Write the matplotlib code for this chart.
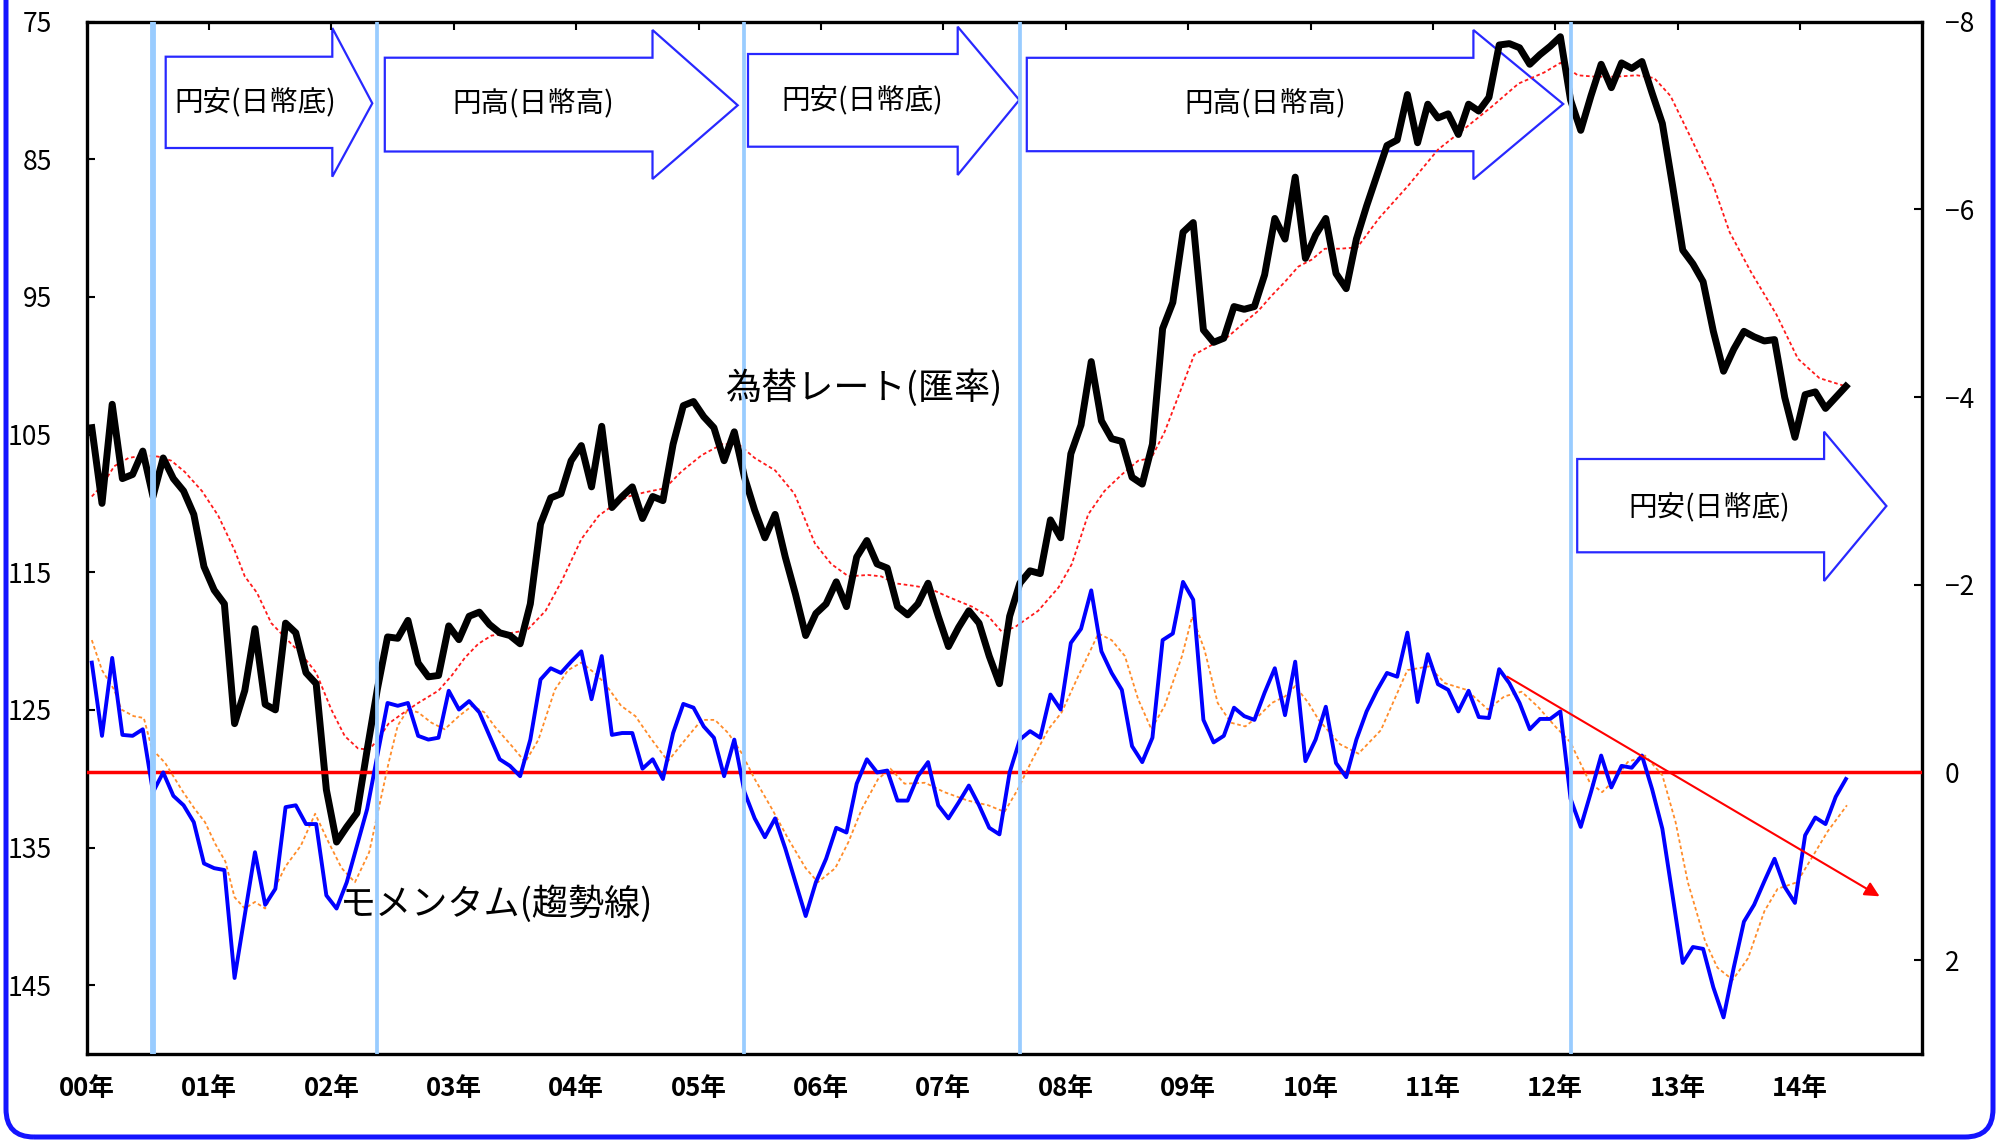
import numpy as np
import matplotlib
matplotlib.use('Agg')
import matplotlib.pyplot as plt
from matplotlib.patches import Polygon, FancyBboxPatch
from matplotlib.transforms import IdentityTransform

plt.rcParams['font.family'] = ['Noto Sans CJK JP', 'DejaVu Sans']
plt.rcParams['axes.unicode_minus'] = True

# ---------------- data ----------------
year_labels = ['00年', '01年', '02年', '03年', '04年', '05年', '06年', '07年',
               '08年', '09年', '10年', '11年', '12年', '13年', '14年']

# month-end exchange rate, Jan 2000 .. May 2014 (left axis, inverted)
rate = [104.5, 110.0, 102.8, 108.2, 107.9, 106.2, 109.5, 106.7, 108.2, 109.1, 110.8, 114.6,
        116.3, 117.3, 126.0, 123.6, 119.1, 124.6, 125.0, 118.7, 119.4, 122.3, 123.1, 130.8,
        134.6, 133.5, 132.5, 127.9, 123.5, 119.7, 119.8, 118.5, 121.6, 122.6, 122.5, 118.9,
        119.9, 118.2, 117.9, 118.8, 119.4, 119.6, 120.2, 117.3, 111.5, 109.6, 109.3, 106.9,
        105.8, 108.8, 104.4, 110.3, 109.5, 108.8, 111.1, 109.5, 109.8, 105.7, 102.9, 102.6,
        103.7, 104.5, 106.9, 104.8, 108.1, 110.5, 112.5, 110.8, 113.9, 116.6, 119.6, 118.0,
        117.3, 115.7, 117.5, 113.9, 112.7, 114.4, 114.7, 117.5, 118.1, 117.3, 115.8, 118.2,
        120.4, 119.0, 117.8, 118.7, 121.1, 123.1, 118.2, 115.8, 114.9, 115.1, 111.2, 112.5,
        106.4, 104.3, 99.7, 104.0, 105.3, 105.5, 108.1, 108.6, 105.7, 97.3, 95.4, 90.3,
        89.6, 97.4, 98.3, 98.0, 95.7, 95.9, 95.7, 93.4, 89.3, 90.8, 86.3, 92.2,
        90.5, 89.3, 93.3, 94.4, 90.8, 88.4, 86.2, 84.0, 83.6, 80.3, 83.8, 81.0,
        82.0, 81.7, 83.2, 81.0, 81.5, 80.5, 76.7, 76.6, 76.9, 78.1, 77.4, 76.8,
        76.1, 80.7, 82.9, 80.4, 78.1, 79.8, 78.0, 78.4, 77.9, 80.2, 82.4, 86.9,
        91.6, 92.6, 93.9, 97.5, 100.4, 98.8, 97.5, 97.9, 98.2, 98.1, 102.3, 105.2,
        102.1, 101.9, 103.1, 102.3, 101.5]

# momentum (right axis, inverted)
momentum = [-1.17, -0.39, -1.22, -0.40, -0.39, -0.46, 0.21, 0.00, 0.25, 0.35, 0.53, 0.97,
            1.02, 1.04, 2.19, 1.52, 0.85, 1.41, 1.24, 0.37, 0.35, 0.55, 0.55, 1.31,
            1.45, 1.17, 0.78, 0.39, -0.18, -0.74, -0.71, -0.74, -0.39, -0.35, -0.37, -0.87,
            -0.67, -0.76, -0.64, -0.39, -0.14, -0.07, 0.04, -0.35, -0.99, -1.11, -1.06, -1.18,
            -1.29, -0.78, -1.24, -0.40, -0.42, -0.42, -0.04, -0.14, 0.07, -0.42, -0.73, -0.69,
            -0.49, -0.37, 0.04, -0.35, 0.21, 0.49, 0.69, 0.49, 0.81, 1.17, 1.53, 1.17,
            0.92, 0.59, 0.64, 0.12, -0.14, 0.00, -0.02, 0.30, 0.30, 0.04, -0.11, 0.35,
            0.49, 0.32, 0.14, 0.35, 0.59, 0.66, 0.00, -0.35, -0.44, -0.37, -0.83, -0.67,
            -1.38, -1.53, -1.94, -1.29, -1.06, -0.88, -0.28, -0.11, -0.37, -1.41, -1.48, -2.03,
            -1.84, -0.56, -0.32, -0.39, -0.69, -0.60, -0.56, -0.85, -1.11, -0.61, -1.18, -0.12,
            -0.35, -0.70, -0.10, 0.05, -0.35, -0.65, -0.87, -1.06, -1.02, -1.49, -0.75, -1.26,
            -0.94, -0.88, -0.65, -0.87, -0.59, -0.58, -1.10, -0.95, -0.74, -0.46, -0.57, -0.57,
            -0.65, 0.28, 0.58, 0.21, -0.18, 0.16, -0.07, -0.05, -0.18, 0.18, 0.60, 1.31,
            2.03, 1.86, 1.88, 2.29, 2.61, 2.08, 1.59, 1.41, 1.16, 0.92, 1.22, 1.39,
            0.67, 0.48, 0.55, 0.26, 0.07]

# moving average of the rate (red dotted), read at these month indices
rate_ma_month = [0, 1, 2.2, 3.6, 5.2, 6.5, 7.8, 9.1, 10.8, 12.4, 14, 15, 16.2, 17.6, 18.9,
                 20.6, 22.0, 23.5, 24.8, 26.1, 27.2, 28.2, 29.1, 30.4, 32, 34, 35.3, 36.6,
                 37.9, 39.2, 40.5, 42.7, 44.5, 46.1, 48.0, 49.7, 51, 52.6, 54.2, 56.2, 57.8,
                 59.8, 61.8, 63.4, 65, 67, 68.9, 70.9, 72.5, 74.2, 76.1, 77.4, 78.7, 80.7,
                 82.2, 84, 86.3, 87.9, 89.2, 90.5, 92.8, 94.8, 96.1, 97.7, 99.3, 101, 102.6,
                 103.9, 105.2, 106.5, 108.1, 109.8, 111.4, 113.1, 114.4, 115.7, 117, 118.3,
                 119.6, 120.9, 122.4, 124.1, 126.2, 129.1, 132, 134.9, 137.4, 139.9, 142.4,
                 144, 145.7, 147.4, 149.5, 151.5, 153.2, 154.8, 156.9, 159, 160.6, 162.7,
                 165.2, 167.3, 169.4, 172]
rate_ma = [109.5, 108.7, 107.3, 106.7, 106.5, 106.6, 106.9, 107.7, 109.1, 110.9, 113.4, 115.3,
           116.5, 118.7, 119.7, 121.0, 122.3, 125.0, 126.9, 127.8, 127.9, 127.0, 126.0, 125.3,
           124.5, 123.6, 122.5, 121.2, 120.2, 119.6, 119.5, 119.2, 117.8, 115.6, 112.6, 110.9,
           110.2, 109.5, 109.2, 108.9, 107.7, 106.5, 105.7, 105.7, 106.7, 107.6, 109.3, 112.9,
           114.4, 115.3, 115.2, 115.3, 115.8, 116.0, 116.2, 116.8, 117.5, 118.2, 119.3, 119.0,
           117.8, 116.1, 114.4, 110.8, 109.1, 107.9, 106.9, 106.7, 104.8, 102.3, 99.2, 98.5,
           97.9, 96.8, 96.0, 94.9, 93.9, 92.8, 92.3, 91.5, 91.5, 91.4, 89.3, 86.9, 84.3,
           82.6, 81.1, 79.5, 78.7, 78.0, 78.9, 79.0, 79.0, 78.9, 79.1, 80.4, 83.6, 86.9,
           90.3, 93.2, 96.3, 99.5, 100.9, 101.5]

# moving average of the momentum (orange dotted)
mom_ma_month = [0, 1, 2.2, 2.9, 4.1, 5.1, 5.9, 7.2, 8.9, 10.1, 11.1, 12.1, 13.1, 14.0, 15.0,
                16, 17, 18, 19, 20.5, 21.9, 23.2, 24.5, 25.8, 27.2, 28.2, 29.1, 30, 31, 32,
                33.3, 34.6, 36, 37.3, 38.5, 39.5, 41.2, 42.5, 43.8, 45.4, 46.7, 48, 49.3,
                50.3, 51.9, 53.3, 54.9, 56.5, 58.2, 59.8, 61.1, 62.4, 63.7, 65, 66.7, 68.3,
                70, 71.2, 72.9, 74.2, 75.5, 77.1, 78.3, 79.7, 81.7, 83.6, 85.9, 87.9, 89.5,
                90.8, 92.1, 93.8, 95.1, 96.7, 98.7, 100, 101.3, 102.6, 103.9, 105.2, 106.9,
                107.9, 109.1, 110.4, 111.7, 113.1, 114.4, 115.7, 117, 118, 119.3, 120.3,
                122.4, 124.2, 126.4, 129, 131.1, 132.7, 134.8, 136.9, 138.5, 140.2, 141.8,
                143.5, 145, 145.6, 146.9, 148.1, 149.4, 150.6, 152.3, 154, 155.3, 156.5,
                158.2, 159.4, 160.9, 162.4, 164, 165.3, 167.2, 168.6, 170.2, 172.1]
mom_ma = [-1.41, -1.09, -0.88, -0.67, -0.60, -0.58, -0.25, -0.10, 0.20, 0.39, 0.53, 0.76,
          0.95, 1.33, 1.45, 1.38, 1.45, 1.22, 1.00, 0.78, 0.44, 0.74, 1.02, 1.17, 0.85,
          0.35, -0.10, -0.50, -0.67, -0.64, -0.53, -0.46, -0.60, -0.71, -0.64, -0.49, -0.28,
          -0.11, -0.35, -0.88, -1.09, -1.17, -1.06, -0.95, -0.71, -0.60, -0.35, -0.12, -0.35,
          -0.56, -0.56, -0.42, -0.21, 0.07, 0.39, 0.71, 1.02, 1.17, 1.02, 0.74, 0.39, 0.07,
          -0.04, 0.12, 0.11, 0.21, 0.30, 0.35, 0.42, 0.18, -0.11, -0.46, -0.64, -1.02, -1.48,
          -1.41, -1.24, -0.78, -0.46, -0.71, -1.24, -1.66, -1.31, -0.74, -0.53, -0.49, -0.60,
          -0.74, -0.81, -0.92, -0.74, -0.56, -0.30, -0.20, -0.45, -1.09, -1.13, -0.95, -0.88,
          -0.67, -0.81, -0.86, -0.70, -0.49, -0.32, -0.18, 0.11, 0.21, 0.07, -0.11, -0.18,
          0.03, 0.53, 1.17, 1.80, 2.08, 2.21, 1.98, 1.48, 1.24, 1.17, 0.92, 0.63, 0.35]

turning_points = [6.5, 28.5, 64.5, 91.5, 145.5]     # light-blue vertical lines (month axis)
trend_labels = ['円安(日幣底)', '円高(日幣高)', '円安(日幣底)', '円高(日幣高)', '円安(日幣底)']

# ---------------- figure ----------------
W, H = 2004, 1146
fig = plt.figure(figsize=(W / 100, H / 100), dpi=100)


def fx(x):
    return x / W


def fy(y):
    return 1 - y / H


L, R, T, B = 86.7, 1922.4, 21.6, 1054
ax = fig.add_axes([fx(L), fy(B), fx(R) - fx(L), fy(T) - fy(B)])
ax2 = ax.twinx()

months = np.arange(len(rate)) + 0.5

# block arrows (behind the lines)
arrow_geo = [
    (165.7, 56.7, 148.0, 332.3, 28.0, 176.7, 372.3, 103.3),
    (384.8, 57.7, 151.5, 652.5, 30.0, 179.0, 737.7, 105.3),
    (748.0, 54.0, 146.7, 957.7, 26.7, 175.0, 1019.3, 100.0),
    (1026.8, 57.8, 151.2, 1473.4, 30.0, 179.3, 1563.2, 104.0),
    (1577.2, 459.0, 552.3, 1824.1, 431.7, 581.0, 1886.4, 506.0),
]
text_pos = [(255.5, 102), (533.5, 104), (862, 100), (1265, 104.5), (1709.5, 507)]
for (xl, yt, yb, xh, yht, yhb, xt, ytip) in arrow_geo:
    pts = [(xl, yt), (xh, yt), (xh, yht), (xt, ytip), (xh, yhb), (xh, yb), (xl, yb)]
    poly = Polygon([(fx(a), fy(b)) for a, b in pts], closed=True,
                   transform=fig.transFigure, facecolor='white',
                   edgecolor='#2828ff', lw=1.6, zorder=1)
    ax.add_patch(poly)

ax.plot(np.array(rate_ma_month) + 0.5, rate_ma, color='#ff1a1a', lw=1.3,
        ls=(0, (2, 1.5)), zorder=2)
ax.plot(months, rate, color='black', lw=5.0, solid_joinstyle='round', zorder=3)

ax2.axhline(0, color='#ff0000', lw=2.5, zorder=2)
ax2.plot(np.array(mom_ma_month) + 0.5, mom_ma, color='#ff8c2a', lw=1.3,
         ls=(0, (2, 1.5)), zorder=3)
ax2.plot(months, momentum, color='#0000ff', lw=2.8, zorder=4)

for i, xv in enumerate(turning_points):
    ax2.axvline(xv, color='#99ccff', lw=4.2 if i == 0 else 2.7, zorder=5)

ax2.annotate('', xy=(175.8, 1.32), xytext=(139.3, -1.02),
             arrowprops=dict(arrowstyle='-|>', color='#ff0000', lw=1.5,
                             mutation_scale=22, shrinkA=0, shrinkB=0), zorder=6)

# axes setup
ax.set_xlim(0, 180)
ax.set_ylim(150, 75)
ax2.set_ylim(3, -8)

ax.set_yticks(list(range(75, 150, 10)))
ax.tick_params(axis='y', direction='in', length=6, width=1.5, labelsize=19, pad=25)
ax.set_xticks(list(range(0, 180, 12)))
ax.set_xticklabels(year_labels, fontsize=18.5, fontweight='bold')
ax.tick_params(axis='x', direction='in', top=True, bottom=False, labeltop=False,
               labelbottom=True, length=6, width=1.5, pad=15)
ax2.set_yticks([-8, -6, -4, -2, 0, 2])
ax2.tick_params(axis='y', direction='in', length=6, width=1.5, labelsize=19, pad=16)

for s in ax.spines.values():
    s.set_linewidth(2.4)
    s.set_color('black')
for s in ax2.spines.values():
    s.set_visible(False)

# texts
for (cx, cy), s in zip(text_pos, trend_labels):
    fig.text(fx(cx), fy(cy), s, ha='center', va='center', fontsize=20.5, zorder=10)
fig.text(fx(865), fy(388), '為替レート(匯率)', ha='center', va='center', fontsize=26, zorder=10)
fig.text(fx(496.5), fy(904), 'モメンタム(趨勢線)', ha='center', va='center', fontsize=26, zorder=10)

# outer rounded blue frame (top edge cut off)
frame = FancyBboxPatch((6, 9), 1987, 1400, boxstyle='round,pad=0,rounding_size=28',
                       transform=IdentityTransform(), fill=False,
                       edgecolor='#1414ff', lw=3.6, zorder=20)
fig.add_artist(frame)

fig.savefig('out.png', dpi=100)
